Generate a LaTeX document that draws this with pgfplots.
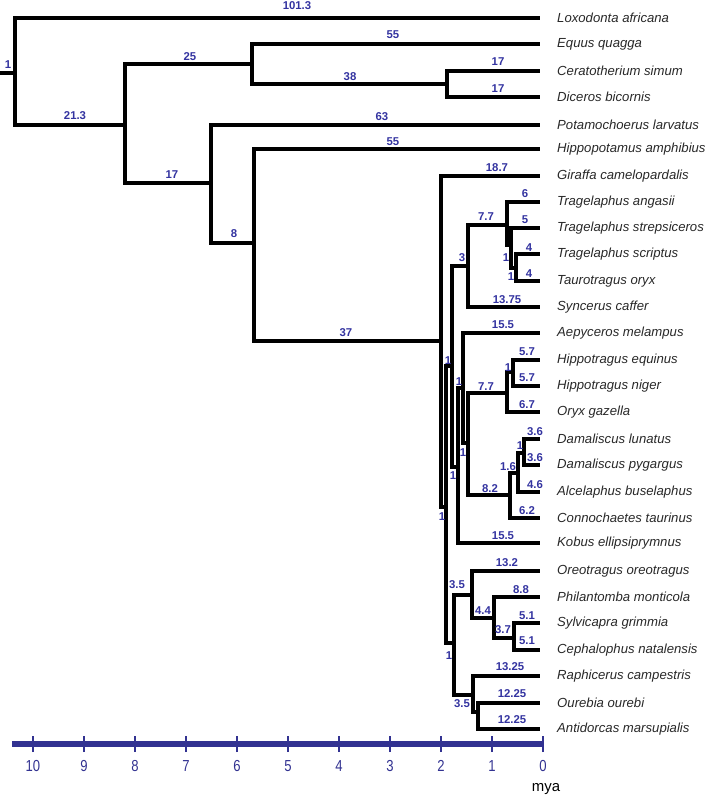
\documentclass[border=0pt]{standalone}
\usepackage{fontspec}
\setmainfont{Liberation Sans}
\usepackage{pgfplots}
\pgfplotsset{compat=1.18}
\definecolor{lblue}{RGB}{51,51,160}
\definecolor{barblue}{RGB}{50,50,145}
\definecolor{sp}{RGB}{40,40,40}
\tikzset{
  br/.style={black, line width=3.7bp, line join=miter, line cap=butt},
  bl/.style={font=\fontsize{11.4}{11.4}\selectfont\bfseries, text=lblue, inner sep=0pt},
  spn/.style={font=\fontsize{13.2}{13.2}\selectfont\itshape, text=sp, anchor=west, inner sep=0pt},
}
\begin{document}
\begin{tikzpicture}
\begin{axis}[
  scale only axis, width=531bp, height=744bp,
  xmin=0, xmax=10.412, ymin=-744, ymax=0,
  x dir=reverse, clip=false,
  axis x line=bottom, axis y line=none, ytick=\empty,
  x axis line style={-, line width=5.5bp, barblue},
  xtick={0,1,2,3,4,5,6,7,8,9,10},
  tick align=center, major tick length=16bp,
  x tick style={line width=2.5bp, barblue},
  xticklabel={\scalebox{0.82}[1]{\pgfmathprintnumber{\tick}}},
  xticklabel style={font=\fontsize{16}{16}\selectfont, text=barblue, yshift=-5bp},
  /pgf/number format/assume math mode=true,
]
% tree branches (x in mya, y = -row position)
\addplot[br, line width=4.5bp] coordinates {(10.647,-73) (10.353,-73)};
\addplot[br] coordinates {(0.06,-18) (10.353,-18) (10.353,-125) (8.196,-125)};
\addplot[br] coordinates {(5.706,-64) (8.196,-64) (8.196,-183) (6.510,-183)};
\addplot[br] coordinates {(0.06,-44) (5.706,-44) (5.706,-84) (1.882,-84)};
\addplot[br] coordinates {(0.06,-71) (1.882,-71) (1.882,-97) (0.06,-97)};
\addplot[br] coordinates {(0.06,-125) (6.510,-125) (6.510,-243) (5.667,-243)};
\addplot[br] coordinates {(0.06,-149) (5.667,-149) (5.667,-341) (2.000,-341)};
\addplot[br] coordinates {(0.06,-176) (2.000,-176) (2.000,-507) (1.902,-507)};
\addplot[br] coordinates {(1.784,-366) (1.902,-366) (1.902,-643) (1.745,-643)};
\addplot[br] coordinates {(1.471,-266) (1.784,-266) (1.784,-467) (1.667,-467)};
\addplot[br] coordinates {(0.706,-225) (1.471,-225) (1.471,-307) (0.06,-307)};
\addplot[br] coordinates {(0.06,-202) (0.706,-202) (0.706,-245) (0.627,-245)};
\addplot[br] coordinates {(0.06,-228) (0.627,-228) (0.627,-268) (0.529,-268)};
\addplot[br] coordinates {(0.06,-254) (0.529,-254) (0.529,-281) (0.06,-281)};
\addplot[br] coordinates {(1.569,-388) (1.667,-388) (1.667,-543) (0.06,-543)};
\addplot[br] coordinates {(0.06,-333) (1.569,-333) (1.569,-443) (1.471,-443)};
\addplot[br] coordinates {(0.706,-393) (1.471,-393) (1.471,-495) (0.647,-495)};
\addplot[br] coordinates {(0.588,-372) (0.706,-372) (0.706,-412) (0.06,-412)};
\addplot[br] coordinates {(0.06,-360) (0.588,-360) (0.588,-386) (0.06,-386)};
\addplot[br] coordinates {(0.490,-473) (0.647,-473) (0.647,-518) (0.06,-518)};
\addplot[br] coordinates {(0.373,-453) (0.490,-453) (0.490,-492) (0.06,-492)};
\addplot[br] coordinates {(0.06,-439) (0.373,-439) (0.373,-465) (0.06,-465)};
\addplot[br] coordinates {(1.392,-595) (1.745,-595) (1.745,-695) (1.373,-695)};
\addplot[br] coordinates {(0.06,-571) (1.392,-571) (1.392,-618) (0.961,-618)};
\addplot[br] coordinates {(0.06,-597) (0.961,-597) (0.961,-638) (0.569,-638)};
\addplot[br] coordinates {(0.06,-623) (0.569,-623) (0.569,-650) (0.06,-650)};
\addplot[br] coordinates {(0.06,-676) (1.373,-676) (1.373,-712) (1.275,-712)};
\addplot[br] coordinates {(0.06,-703) (1.275,-703) (1.275,-729) (0.06,-729)};
% branch-length labels
\node[bl] at (axis cs:10.490,-65) {1};
\node[bl] at (axis cs:4.824,-6) {101.3};
\node[bl] at (axis cs:9.176,-116) {21.3};
\node[bl] at (axis cs:6.922,-57) {25};
\node[bl] at (axis cs:2.941,-35) {55};
\node[bl] at (axis cs:3.784,-77) {38};
\node[bl] at (axis cs:0.882,-62) {17};
\node[bl] at (axis cs:0.882,-89) {17};
\node[bl] at (axis cs:7.275,-175) {17};
\node[bl] at (axis cs:3.157,-117) {63};
\node[bl] at (axis cs:6.059,-234) {8};
\node[bl] at (axis cs:2.941,-142) {55};
\node[bl] at (axis cs:3.863,-333) {37};
\node[bl] at (axis cs:0.902,-168) {18.7};
\node[bl] at (axis cs:0.353,-194) {6};
\node[bl] at (axis cs:0.353,-220) {5};
\node[bl] at (axis cs:1.118,-217) {7.7};
\node[bl] at (axis cs:1.588,-258) {3};
\node[bl] at (axis cs:0.725,-258) {1};
\node[bl] at (axis cs:0.627,-277) {1};
\node[bl] at (axis cs:0.275,-248) {4};
\node[bl] at (axis cs:0.275,-274) {4};
\node[bl] at (axis cs:0.706,-300) {13.75};
\node[bl] at (axis cs:0.784,-325) {15.5};
\node[bl] at (axis cs:1.863,-361) {1};
\node[bl] at (axis cs:1.647,-382) {1};
\node[bl] at (axis cs:0.314,-352) {5.7};
\node[bl] at (axis cs:0.314,-378) {5.7};
\node[bl] at (axis cs:0.686,-368) {1};
\node[bl] at (axis cs:1.118,-387) {7.7};
\node[bl] at (axis cs:0.314,-405) {6.7};
\node[bl] at (axis cs:0.157,-432) {3.6};
\node[bl] at (axis cs:0.157,-458) {3.6};
\node[bl] at (axis cs:0.451,-446) {1};
\node[bl] at (axis cs:0.686,-467) {1.6};
\node[bl] at (axis cs:0.157,-485) {4.6};
\node[bl] at (axis cs:1.569,-453) {1};
\node[bl] at (axis cs:1.765,-476) {1};
\node[bl] at (axis cs:1.039,-489) {8.2};
\node[bl] at (axis cs:0.314,-511) {6.2};
\node[bl] at (axis cs:1.980,-517) {1};
\node[bl] at (axis cs:0.784,-536) {15.5};
\node[bl] at (axis cs:0.706,-563) {13.2};
\node[bl] at (axis cs:1.686,-585) {3.5};
\node[bl] at (axis cs:0.431,-590) {8.8};
\node[bl] at (axis cs:1.176,-611) {4.4};
\node[bl] at (axis cs:0.314,-616) {5.1};
\node[bl] at (axis cs:0.784,-630) {3.7};
\node[bl] at (axis cs:0.314,-641) {5.1};
\node[bl] at (axis cs:1.843,-656) {1};
\node[bl] at (axis cs:0.647,-667) {13.25};
\node[bl] at (axis cs:0.608,-694) {12.25};
\node[bl] at (axis cs:1.588,-704) {3.5};
\node[bl] at (axis cs:0.608,-720) {12.25};
% species names
\node[spn] at (axis cs:-0.275,-18) {Loxodonta africana};
\node[spn] at (axis cs:-0.275,-44) {Equus quagga};
\node[spn] at (axis cs:-0.275,-71) {Ceratotherium simum};
\node[spn] at (axis cs:-0.275,-97) {Diceros bicornis};
\node[spn] at (axis cs:-0.275,-125) {Potamochoerus larvatus};
\node[spn] at (axis cs:-0.275,-149) {Hippopotamus amphibius};
\node[spn] at (axis cs:-0.275,-176) {Giraffa camelopardalis};
\node[spn] at (axis cs:-0.275,-202) {Tragelaphus angasii};
\node[spn] at (axis cs:-0.275,-228) {Tragelaphus strepsiceros};
\node[spn] at (axis cs:-0.275,-254) {Tragelaphus scriptus};
\node[spn] at (axis cs:-0.275,-281) {Taurotragus oryx};
\node[spn] at (axis cs:-0.275,-307) {Syncerus caffer};
\node[spn] at (axis cs:-0.275,-333) {Aepyceros melampus};
\node[spn] at (axis cs:-0.275,-360) {Hippotragus equinus};
\node[spn] at (axis cs:-0.275,-386) {Hippotragus niger};
\node[spn] at (axis cs:-0.275,-412) {Oryx gazella};
\node[spn] at (axis cs:-0.275,-439) {Damaliscus lunatus};
\node[spn] at (axis cs:-0.275,-465) {Damaliscus pygargus};
\node[spn] at (axis cs:-0.275,-492) {Alcelaphus buselaphus};
\node[spn] at (axis cs:-0.275,-518) {Connochaetes taurinus};
\node[spn] at (axis cs:-0.275,-543) {Kobus ellipsiprymnus};
\node[spn] at (axis cs:-0.275,-571) {Oreotragus oreotragus};
\node[spn] at (axis cs:-0.275,-597) {Philantomba monticola};
\node[spn] at (axis cs:-0.275,-623) {Sylvicapra grimmia};
\node[spn] at (axis cs:-0.275,-650) {Cephalophus natalensis};
\node[spn] at (axis cs:-0.275,-676) {Raphicerus campestris};
\node[spn] at (axis cs:-0.275,-703) {Ourebia ourebi};
\node[spn] at (axis cs:-0.275,-729) {Antidorcas marsupialis};
\node[font=\fontsize{15}{15}\selectfont, text=black, inner sep=0pt, anchor=base] at (axis cs:-0.06,-791) {mya};
\coordinate (bbll) at (axis cs:10.647,-796);
\coordinate (bbur) at (axis cs:-3.255,0);
\end{axis}
\pgfresetboundingbox
\useasboundingbox (bbll) rectangle (bbur);
\end{tikzpicture}
\end{document}
